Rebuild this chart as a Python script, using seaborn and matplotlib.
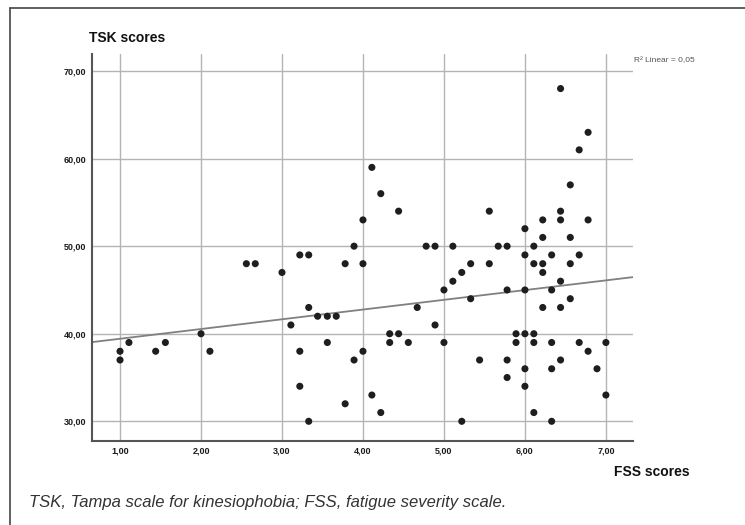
import numpy as np
import pandas as pd
import matplotlib
matplotlib.use("Agg")
import matplotlib.pyplot as plt
import seaborn as sns
from matplotlib.lines import Line2D

# FSS (x) and TSK (y) scores
fss = [1.00, 1.00, 1.11, 1.44, 1.56, 2.00, 2.11, 2.56, 2.67, 3.00,
       3.11, 3.22, 3.22, 3.22, 3.33, 3.33, 3.33, 3.44, 3.56, 3.56,
       3.67, 3.78, 3.78, 3.89, 3.89, 4.00, 4.00, 4.00, 4.11, 4.11,
       4.22, 4.22, 4.33, 4.33, 4.44, 4.44, 4.56, 4.67, 4.78, 4.89,
       4.89, 5.00, 5.00, 5.11, 5.11, 5.22, 5.22, 5.33, 5.33, 5.44,
       5.56, 5.56, 5.67, 5.78, 5.78, 5.78, 5.78, 5.89, 5.89, 6.00,
       6.00, 6.00, 6.00, 6.00, 6.00, 6.11, 6.11, 6.11, 6.11, 6.11,
       6.22, 6.22, 6.22, 6.22, 6.22, 6.33, 6.33, 6.33, 6.33, 6.33,
       6.44, 6.44, 6.44, 6.44, 6.44, 6.44, 6.56, 6.56, 6.56, 6.56,
       6.67, 6.67, 6.67, 6.78, 6.78, 6.78, 6.89, 7.00, 7.00]
tsk = [38, 37, 39, 38, 39, 40, 38, 48, 48, 47,
       41, 49, 38, 34, 49, 43, 30, 42, 42, 39,
       42, 48, 32, 50, 37, 53, 48, 38, 59, 33,
       56, 31, 40, 39, 54, 40, 39, 43, 50, 50,
       41, 45, 39, 50, 46, 47, 30, 48, 44, 37,
       54, 48, 50, 50, 45, 37, 35, 40, 39, 52,
       49, 45, 40, 36, 34, 50, 48, 40, 39, 31,
       53, 51, 48, 47, 43, 49, 45, 39, 36, 30,
       68, 54, 53, 46, 43, 37, 57, 51, 48, 44,
       61, 49, 39, 63, 53, 38, 36, 39, 33]

x_ticks = [1, 2, 3, 4, 5, 6, 7]
y_ticks = [30, 40, 50, 60, 70]
r2_label = "R² Linear = 0,05"

df = pd.DataFrame({"FSS": fss, "TSK": tsk})

sns.set_style("white")
plt.rcParams["font.family"] = ["Liberation Sans", "DejaVu Sans"]

fig = plt.figure(figsize=(7.45, 5.25), dpi=100)
ax = fig.add_axes([0.1235, 0.16, 0.726, 0.737])

ax.set_xlim(0.654, 7.333)
ax.set_ylim(27.75, 71.94)
ax.set_xticks(x_ticks)
ax.set_yticks(y_ticks)
ax.set_xticklabels([f"{t:.2f}".replace(".", ",") for t in x_ticks])
ax.set_yticklabels([f"{t:.2f}".replace(".", ",") for t in y_ticks])
ax.grid(True, color="#b4b4b4", lw=1.0)
ax.set_axisbelow(True)

sns.regplot(data=df, x="FSS", y="TSK", scatter=False, ci=None, truncate=False,
            ax=ax, line_kws={"color": "#808080", "lw": 1.3})
sns.scatterplot(data=df, x="FSS", y="TSK", ax=ax, color="#1e1e1e",
                s=26, edgecolor="none", zorder=3)

ax.set_xlim(0.654, 7.333)
ax.set_xlabel("")
ax.set_ylabel("")
for side in ["top", "right"]:
    ax.spines[side].set_visible(False)
for side in ["left", "bottom"]:
    ax.spines[side].set_color("#555555")
    ax.spines[side].set_linewidth(1.5)
ax.tick_params(axis="both", length=0, pad=4, labelsize=6.5, labelcolor="#1a1a1a")
for lab in ax.get_xticklabels() + ax.get_yticklabels():
    lab.set_fontweight("bold")

fig.text(89 / 745, 1 - 38 / 525, "TSK scores", fontsize=10, fontweight="bold",
         color="#111111", ha="left", va="center")
fig.text(614 / 745, 1 - 472 / 525, "FSS scores", fontsize=10, fontweight="bold",
         color="#111111", ha="left", va="center")
fig.text(634 / 745, 1 - 61 / 525, r2_label, fontsize=6, color="#555555",
         ha="left", va="center")
fig.text(29 / 745, 1 - 503 / 525,
         "TSK, Tampa scale for kinesiophobia; FSS, fatigue severity scale.",
         fontsize=12, style="italic", color="#333333", ha="left", va="center")

# frame lines of the original figure panel
fig.add_artist(Line2D([10 / 745, 10 / 745], [0, 1 - 8 / 525],
                      transform=fig.transFigure, color="#444444", lw=1.2))
fig.add_artist(Line2D([10 / 745, 1], [1 - 8 / 525, 1 - 8 / 525],
                      transform=fig.transFigure, color="#444444", lw=1.2))

fig.savefig("out.png", dpi=100)
